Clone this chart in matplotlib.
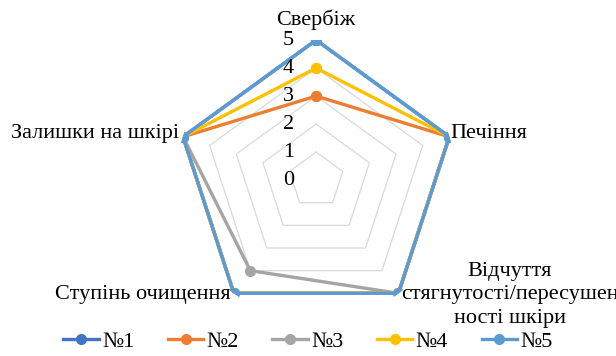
import numpy as np
import matplotlib
matplotlib.use("Agg")
import matplotlib.pyplot as plt
from matplotlib.transforms import offset_copy

categories = ["Свербіж", "Печіння", "Відчуття\nстягнутості/пересушен\nності шкіри",
              "Ступінь очищення", "Залишки на шкірі"]
series_names = ["№1", "№2", "№3", "№4", "№5"]
s1 = [5, 5, 5, 5, 5]
s2 = [3, 5, 5, 5, 5]
s3 = [5, 5, 5, 4, 5]
s4 = [4, 5, 5, 5, 5]
s5 = [5, 5, 5, 5, 5]
colors = ["#4472C4", "#ED7D31", "#A5A5A5", "#FFC000", "#5B9BD5"]
r_ticks = [0, 1, 2, 3, 4, 5]

plt.rcParams['font.family'] = ['Liberation Serif', 'DejaVu Serif']

fig = plt.figure(figsize=(6.16, 3.56), dpi=100)
ax = fig.add_axes([0.286, 0.101, 0.4545, 0.7865], projection='polar')
ax.set_theta_offset(np.pi / 2)
ax.set_theta_direction(-1)
ax.set_ylim(0, 5)
ax.grid(False)
ax.spines['polar'].set_visible(False)
ax.set_xticks([])
ax.set_yticks([])
ax.patch.set_alpha(0)

n = len(categories)
angles = np.linspace(0, 2 * np.pi, n, endpoint=False)
closed = np.concatenate([angles, angles[:1]])

for r in r_ticks[1:]:
    ax.plot(closed, [r] * (n + 1), color="#D9D9D9", lw=0.9, zorder=1)

for name, vals, c in zip(series_names, [s1, s2, s3, s4, s5], colors):
    v = list(vals) + [vals[0]]
    ax.plot(closed, v, color=c, lw=2.4, marker='o', markersize=7, label=name, zorder=3)

fs = 16
tr = offset_copy(ax.transData, fig=fig, x=-20, y=0, units='points')
for r in r_ticks:
    ax.text(0, r, str(r), transform=tr, ha='center', va='center', fontsize=fs, zorder=4)

fig.text(316 / 616, 1 - 20 / 356, categories[0], ha='center', va='center', fontsize=fs)
fig.text(450 / 616, 1 - 133 / 356, categories[1], ha='left', va='center', fontsize=fs)
fig.text(510 / 616, 1 - 295 / 356, categories[2], ha='center', va='center', fontsize=fs,
         multialignment='center', linespacing=1.3)
fig.text(231 / 616, 1 - 295 / 356, categories[3], ha='right', va='center', fontsize=fs)
fig.text(179 / 616, 1 - 133 / 356, categories[4], ha='right', va='center', fontsize=fs)

handles, labels = ax.get_legend_handles_labels()
fig.legend(handles, labels, loc='lower center', bbox_to_anchor=(0.5, -0.045), ncol=5,
           frameon=False, fontsize=fs, handlelength=1.6, columnspacing=1.5,
           handletextpad=0.15)

fig.savefig("out.png", dpi=100)
